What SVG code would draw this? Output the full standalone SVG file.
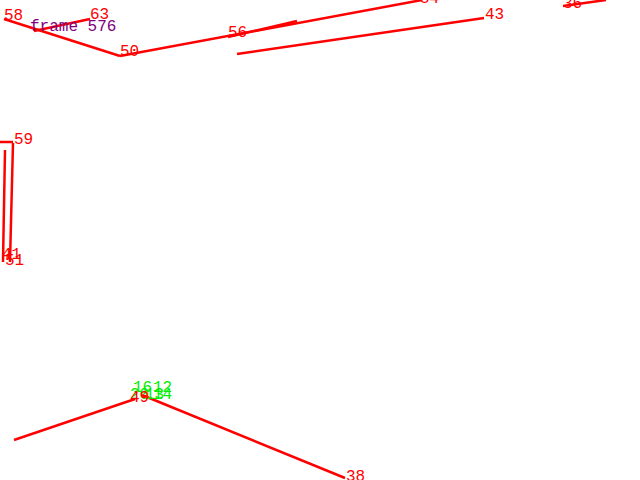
<svg xmlns="http://www.w3.org/2000/svg" width="640" height="480" viewBox="0 0 640 480">
<style>
.e{stroke:#ff0000;stroke-width:2.5;fill:none}
text{font-family:"Liberation Mono","DejaVu Sans Mono",monospace;font-size:16px}
.r{fill:#ff0000}
.g{fill:#00ee00}
.p{fill:#800080}
</style>
<rect width="640" height="480" fill="#ffffff"/>
<g id="connectors">
<line class="e" x1="4" y1="19" x2="120" y2="56"/>
<line class="e" x1="34" y1="31" x2="90" y2="19"/>
<line class="e" x1="120" y1="56" x2="422" y2="0"/>
<line class="e" x1="228" y1="37" x2="297" y2="21"/>
<line class="e" x1="237" y1="54" x2="484" y2="18"/>
<line class="e" x1="563" y1="6" x2="606" y2="0"/>
<line class="e" x1="0" y1="142" x2="13" y2="142"/>
<line class="e" x1="13" y1="143" x2="10" y2="262"/>
<line class="e" x1="5" y1="150" x2="3" y2="262"/>
<line class="e" x1="14" y1="440" x2="135" y2="399"/>
<line class="e" x1="142" y1="395" x2="345" y2="478"/>
</g>
<g id="n58"><text class="r" x="4" y="20">58</text></g>
<g id="n63"><text class="r" x="90" y="19">63</text></g>
<g id="frame"><text class="p" x="30" y="31">frame 576</text></g>
<g id="n50"><text class="r" x="120" y="56">50</text></g>
<g id="n56"><text class="r" x="228" y="37">56</text></g>
<g id="n54"><text class="r" x="420" y="3">54</text></g>
<g id="n43"><text class="r" x="485" y="19">43</text></g>
<g id="n36"><text class="r" x="563" y="8">36</text></g>
<g id="n59"><text class="r" x="14" y="144">59</text></g>
<g id="n41"><text class="r" x="2" y="259">41</text></g>
<g id="n51"><text class="r" x="5" y="265">51</text></g>
<g id="n16"><text class="g" x="133" y="392">16</text></g>
<g id="n12"><text class="g" x="153" y="392">12</text></g>
<g id="n20"><text class="g" x="130" y="399">20</text></g>
<g id="n13"><text class="g" x="145" y="399">13</text></g>
<g id="n14"><text class="g" x="153" y="399">14</text></g>
<g id="n49"><text class="r" x="130" y="402">49</text></g>
<g id="n38"><text class="r" x="346" y="481">38</text></g>
</svg>
